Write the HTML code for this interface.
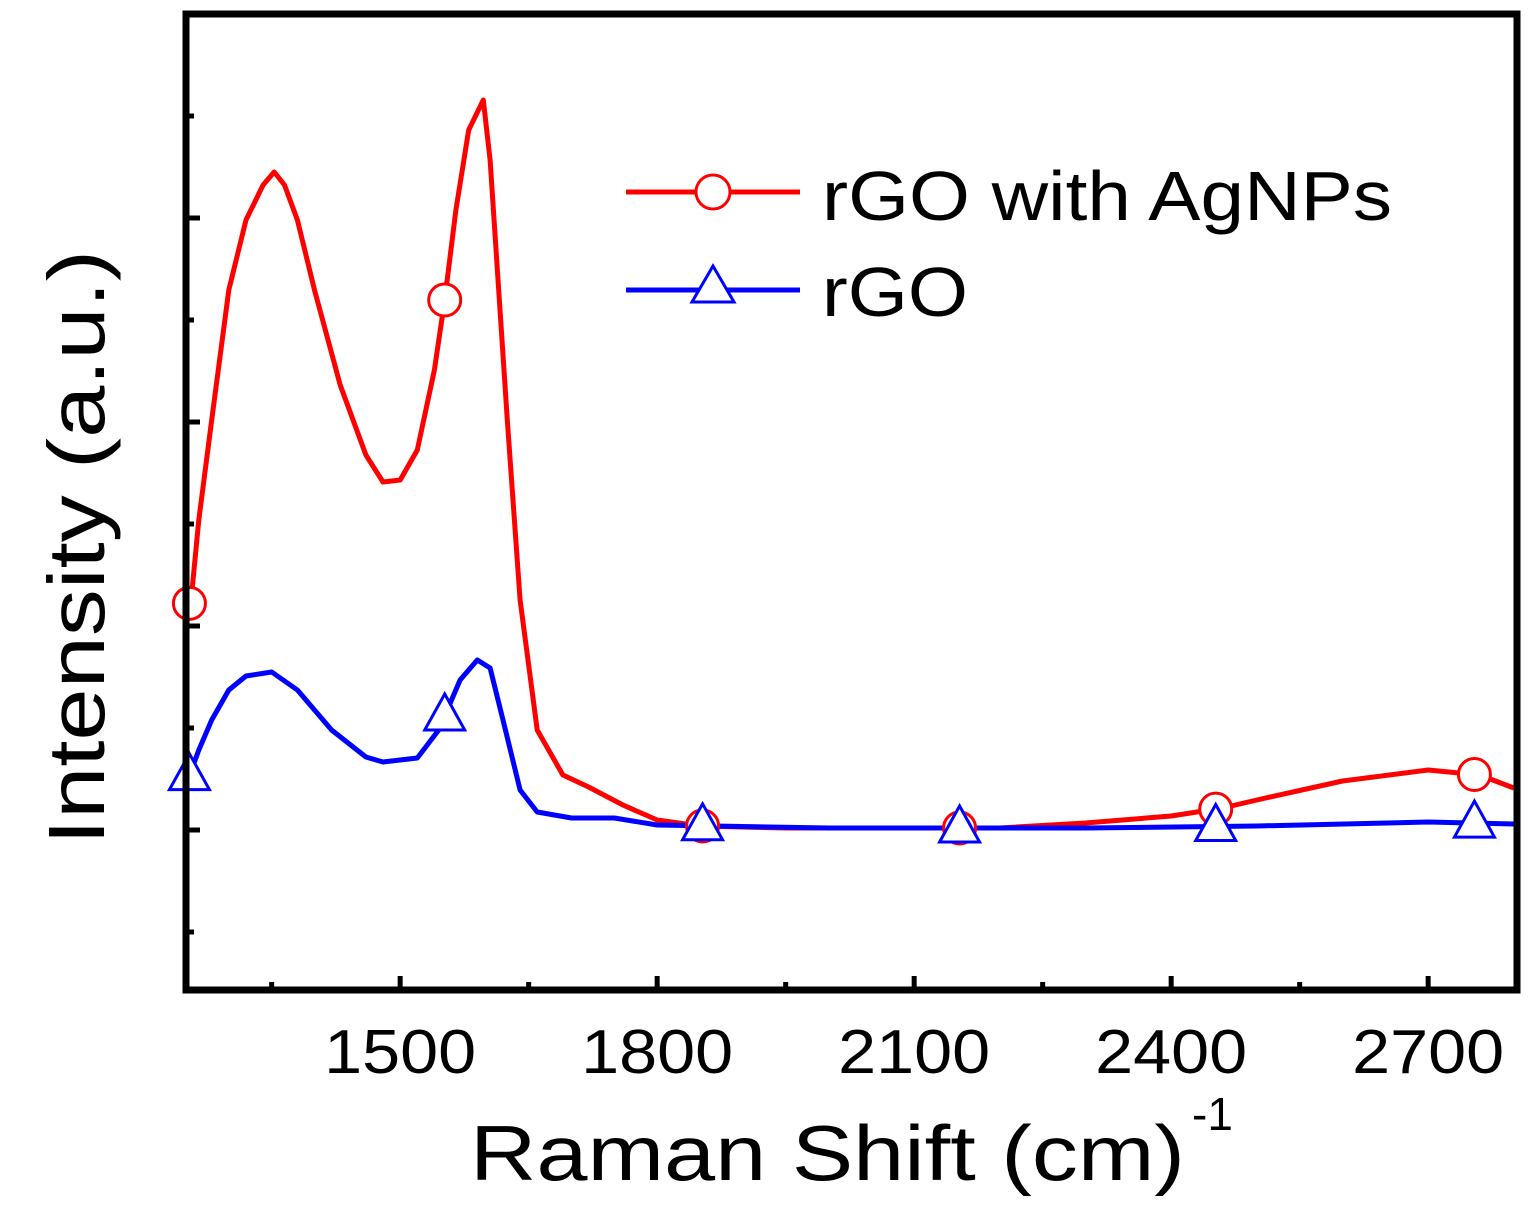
<!DOCTYPE html>
<html><head><meta charset="utf-8"><style>
body{margin:0;background:#fff;}
svg{display:block;font-family:"Liberation Sans",Arial,sans-serif;}
</style></head><body>
<svg id="chart" width="1537" height="1216" viewBox="0 0 1537 1216" xmlns="http://www.w3.org/2000/svg">
<g id="plot"></g>
</svg>
<script>
const xTicks=[1500,1800,2100,2400,2700];
const redX=[1250,1256,1265,1280,1300,1320,1340,1353,1365,1380,1400,1430,1460,1480,1500,1520,1540,1552,1565,1580,1597,1605,1615,1625,1640,1660,1690,1720,1760,1800,1850,1950,2100,2200,2300,2400,2460,2500,2600,2700,2760,2800];
const redY=[610,600,520,420,290,220,185,172,185,220,290,385,455,482,480,450,370,300,210,130,100,160,290,420,600,730,775,787,805,820,826,828,828,828,823,816,808,800,781,770,775,788];
const blueX=[1250,1265,1280,1300,1320,1350,1380,1420,1460,1480,1520,1545,1570,1590,1605,1620,1640,1660,1700,1750,1800,2000,2300,2500,2700,2800];
const blueY=[785,750,720,690,676,672,690,730,757,762,758,730,680,660,668,720,790,812,818,818,825,828,828,826,822,824];
const markerX=[1254,1552,1853,2153,2452,2754];
const L=186,R=1517,T=14,B=990;
const xs=v=>L+(v-1250)*257/300;
const vToY=v=>830-v*204;
const pxToV=p=>(830-p)/204;
const NS="http://www.w3.org/2000/svg";
const g=document.getElementById('plot');
function mk(tag,attrs){const e=document.createElementNS(NS,tag);for(const k in attrs)e.setAttribute(k,attrs[k]);g.appendChild(e);return e;}
function interp(xa,ya,x){for(let i=0;i<xa.length-1;i++){if(x>=xa[i]&&x<=xa[i+1]){const t=(x-xa[i])/(xa[i+1]-xa[i]);return ya[i]+t*(ya[i+1]-ya[i]);}}return ya[ya.length-1];}
function series(xa,ya,color,name){
  const d=xa.map((x,i)=>(i?'L':'M')+xs(x).toFixed(1)+','+vToY(pxToV(ya[i])).toFixed(1)).join(' ');
  const p=mk('path',{d:d,fill:'none',stroke:color,'stroke-width':5,'stroke-linejoin':'round'});
  
  
}
series(redX,redY,'#ff0000','red-series-line');
series(blueX,blueY,'#0000ff','blue-series-line');
markerX.forEach(x=>{
  const cy=vToY(pxToV(interp(redX,redY,x)));
  const c=mk('circle',{cx:xs(x),cy:cy,r:16,fill:'#fff',stroke:'#ff0000','stroke-width':3});
  
  
});
markerX.forEach(x=>{
  const cy=vToY(pxToV(interp(blueX,blueY,x)));
  const px=xs(x);
  const t=mk('polygon',{points:`${px},${cy-22} ${px-20},${cy+14} ${px+20},${cy+14}`,fill:'#fff',stroke:'#0000ff','stroke-width':3});
  
  
});
const f=mk('rect',{x:L,y:T,width:R-L,height:B-T,fill:'none',stroke:'#000','stroke-width':7});


xTicks.forEach(v=>{
  const x=xs(v);
  mk('line',{x1:x,y1:B,x2:x,y2:B-14,stroke:'#000','stroke-width':5});
  const t=mk('text',{x:x-76,y:1073,'font-size':62,textLength:152,lengthAdjust:'spacingAndGlyphs',fill:'#000'});
  t.textContent=v;
  
  
});
for(let v=1350;v<2800;v+=300){const x=xs(v);mk('line',{x1:x,y1:B,x2:x,y2:B-8,stroke:'#000','stroke-width':5});}
[218,422,626,830].forEach(y=>mk('line',{x1:L,y1:y,x2:L+14,y2:y,stroke:'#000','stroke-width':5}));
[116,320,524,728,932].forEach(y=>mk('line',{x1:L,y1:y,x2:L+8,y2:y,stroke:'#000','stroke-width':5}));
</script>
<svg style="position:absolute;left:0;top:0" width="1537" height="1216" xmlns="http://www.w3.org/2000/svg" font-family="Liberation Sans, Arial, sans-serif">
<g>
<line x1="626" y1="192" x2="800" y2="192" stroke="#ff0000" stroke-width="5"/>
<circle cx="713" cy="192" r="17" fill="#fff" stroke="#ff0000" stroke-width="3"/>
<text x="822" y="220" font-size="70" textLength="570" lengthAdjust="spacingAndGlyphs" fill="#000">rGO with AgNPs</text>
<line x1="626" y1="290" x2="800" y2="290" stroke="#0000ff" stroke-width="5"/>
<polygon points="713,266 692,302 734,302" fill="#fff" stroke="#0000ff" stroke-width="3"/>
<text x="822" y="316" font-size="70" textLength="146" lengthAdjust="spacingAndGlyphs" fill="#000">rGO</text>
</g>
<text x="470" y="1180" font-size="78" textLength="715" lengthAdjust="spacingAndGlyphs" fill="#000">Raman Shift (cm)</text>
<text x="1192" y="1130" font-size="46" fill="#000">-1</text>
<text transform="translate(104,845) rotate(-90)" font-size="80" textLength="595" lengthAdjust="spacingAndGlyphs" fill="#000">Intensity (a.u.)</text>
</svg>
</body></html>
